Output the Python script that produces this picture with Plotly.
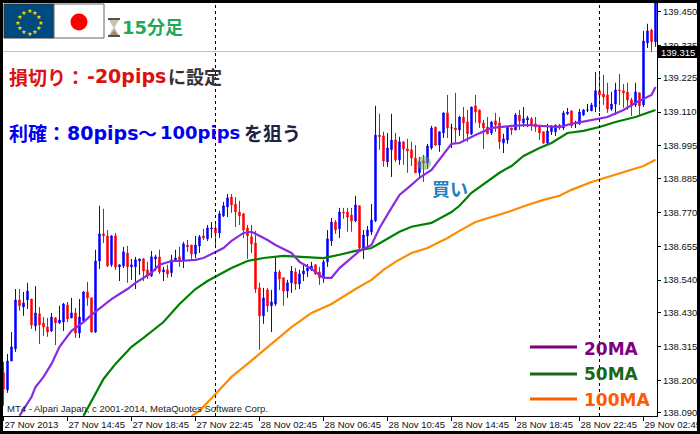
import math
import pandas as pd
import plotly.graph_objects as go

W, H = 700, 434
L, R, T, B = 3, 657, 3, 416

opens = [138.226,138.168,138.266,138.307,138.473,138.449,138.473,138.476,138.385,138.426,
138.395,138.381,138.368,138.412,138.395,138.398,138.456,138.412,138.429,138.361,
138.402,138.500,138.480,138.364,138.605,138.697,138.690,138.592,138.690,138.585,
138.588,138.632,138.585,138.585,138.605,138.612,138.575,138.554,138.612,138.619,
138.568,138.575,138.565,138.605,138.619,138.605,138.659,138.659,138.629,138.656,
138.690,138.680,138.714,138.717,138.700,138.758,138.788,138.822,138.798,138.771,
138.765,138.717,138.687,138.666,138.514,138.419,138.507,138.453,138.459,138.568,
138.548,138.503,138.531,138.568,138.527,138.561,138.571,138.575,138.592,138.568,
138.548,138.602,138.673,138.737,138.714,138.771,138.771,138.761,138.741,138.792,
138.643,138.690,138.703,138.741,139.032,139.029,138.941,138.982,139.015,138.948,
139.009,138.985,138.982,138.954,138.904,138.944,138.937,138.988,139.059,138.998,
139.039,139.107,139.056,139.056,139.049,139.093,139.076,139.036,139.131,139.117,
139.073,139.059,139.039,139.080,139.073,139.005,139.015,139.056,139.049,139.100,
139.073,139.083,139.087,139.070,139.063,139.043,139.005,139.043,139.043,139.066,
139.056,139.104,139.114,139.073,139.070,139.100,139.117,139.114,139.127,139.182,
139.171,139.168,139.120,139.137,139.185,139.182,139.178,139.151,139.134,139.175,
139.134,139.344,139.388,139.348]

highs = [138.263,138.290,138.364,138.510,138.510,138.500,138.531,138.476,138.520,138.449,
138.415,138.412,138.429,138.415,138.453,138.463,138.466,138.480,138.446,138.476,
138.503,138.534,138.480,138.643,138.792,138.782,138.710,138.693,138.700,138.592,
138.653,138.656,138.612,138.619,138.612,138.615,138.602,138.639,138.626,138.643,
138.585,138.592,138.626,138.643,138.653,138.670,138.676,138.659,138.690,138.693,
138.714,138.727,138.737,138.737,138.775,138.805,138.832,138.832,138.822,138.809,
138.768,138.727,138.727,138.707,138.531,138.514,138.514,138.507,138.619,138.575,
138.548,138.541,138.588,138.581,138.575,138.592,138.595,138.602,138.595,138.585,
138.609,138.710,138.751,138.744,138.785,138.785,138.785,138.785,138.826,138.792,
138.710,138.724,138.798,139.131,139.104,139.043,139.039,139.104,139.039,139.026,
139.009,139.019,139.009,138.998,138.958,138.965,139.002,139.063,139.059,139.043,
139.107,139.168,139.070,139.175,139.097,139.127,139.117,139.127,139.168,139.117,
139.083,139.093,139.080,139.107,139.093,139.036,139.059,139.056,139.107,139.117,
139.127,139.097,139.093,139.093,139.063,139.043,139.070,139.066,139.066,139.070,
139.114,139.124,139.114,139.080,139.120,139.120,139.137,139.141,139.246,139.239,
139.236,139.209,139.178,139.209,139.239,139.205,139.209,139.158,139.209,139.175,
139.385,139.409,139.392,139.490]

lows = [138.114,138.158,138.266,138.297,138.436,138.419,138.442,138.375,138.368,138.324,
138.351,138.348,138.364,138.320,138.392,138.368,138.398,138.412,138.344,138.344,
138.398,138.453,138.364,138.361,138.578,138.666,138.585,138.585,138.575,138.537,
138.581,138.531,138.541,138.510,138.558,138.537,138.544,138.551,138.571,138.561,
138.537,138.548,138.551,138.605,138.585,138.581,138.636,138.612,138.615,138.632,
138.676,138.673,138.683,138.659,138.683,138.754,138.754,138.768,138.720,138.727,
138.683,138.612,138.632,138.497,138.304,138.392,138.432,138.364,138.453,138.507,
138.453,138.480,138.497,138.507,138.510,138.537,138.551,138.571,138.558,138.524,
138.531,138.585,138.656,138.697,138.683,138.748,138.704,138.704,138.737,138.636,
138.612,138.656,138.693,138.737,138.982,138.924,138.924,138.890,138.941,138.931,
138.931,138.904,138.927,138.904,138.890,138.873,138.917,138.982,138.995,138.975,
139.022,139.022,138.988,139.005,139.029,139.009,139.009,139.032,139.073,139.056,
138.985,139.036,139.032,139.043,138.985,138.971,139.002,139.032,139.049,139.049,
139.059,139.059,139.046,139.043,139.015,139.002,138.998,139.032,139.029,139.049,
139.049,139.100,139.056,139.056,139.066,139.097,139.110,139.114,139.110,139.110,
139.134,139.107,139.114,139.100,139.134,139.124,139.117,139.097,139.127,139.100,
139.127,139.327,139.314,139.331]

closes = [138.171,138.266,138.314,138.473,138.453,138.463,138.503,138.388,138.429,138.388,
138.381,138.364,138.415,138.395,138.405,138.459,138.409,138.429,138.361,138.415,
138.500,138.480,138.364,138.605,138.697,138.690,138.588,138.690,138.585,138.592,
138.636,138.585,138.592,138.609,138.612,138.571,138.554,138.619,138.619,138.568,
138.575,138.561,138.609,138.615,138.605,138.663,138.653,138.629,138.659,138.687,
138.683,138.717,138.717,138.700,138.765,138.792,138.819,138.795,138.771,138.758,
138.710,138.690,138.663,138.510,138.419,138.480,138.453,138.466,138.568,138.544,
138.503,138.531,138.571,138.527,138.561,138.571,138.581,138.588,138.561,138.548,
138.602,138.680,138.737,138.710,138.771,138.768,138.754,138.741,138.795,138.649,
138.693,138.710,138.744,139.032,139.026,138.944,138.988,139.015,138.948,139.009,
138.985,138.978,138.954,138.904,138.941,138.937,138.995,139.056,138.998,139.043,
139.107,139.056,139.056,139.049,139.093,139.073,139.036,139.127,139.110,139.073,
139.056,139.036,139.076,139.066,139.009,139.019,139.059,139.049,139.100,139.080,
139.087,139.090,139.063,139.059,139.039,139.005,139.046,139.063,139.066,139.056,
139.107,139.110,139.063,139.073,139.110,139.117,139.117,139.134,139.182,139.168,
139.161,139.120,139.137,139.185,139.182,139.175,139.151,139.131,139.178,139.131,
139.351,139.385,139.348,139.480]

doji_bars = [112, 143, 146]

ma20_bars = [4,7,8,10,12,14,17,20,22,25,27,29,31,33,35,37,39,42,44,48,50,53,55,57,60,62,66,68,72,74,77,80,82,84,87,89,92,94,97,99,102,104,107,110,112,114,118,122,127,131,135,139,142,147,151,155,158,162,163]
ma20_vals = [138.080,138.144,138.178,138.212,138.256,138.314,138.368,138.398,138.422,138.453,138.476,138.493,138.510,138.531,138.548,138.565,138.592,138.605,138.605,138.609,138.615,138.636,138.649,138.673,138.700,138.704,138.676,138.659,138.632,138.602,138.578,138.548,138.548,138.581,138.615,138.639,138.659,138.717,138.785,138.829,138.863,138.887,138.914,138.968,139.002,139.005,139.032,139.056,139.063,139.066,139.063,139.059,139.070,139.083,139.093,139.117,139.141,139.168,139.195]

ma50_bars = [20,23,25,28,32,35,40,44,48,51,54,57,61,65,70,76,80,84,88,92,95,99,102,107,112,114,117,121,124,127,130,134,137,141,145,149,153,158,163]
ma50_vals = [138.080,138.154,138.205,138.256,138.314,138.344,138.398,138.459,138.510,138.537,138.558,138.581,138.605,138.615,138.622,138.619,138.615,138.626,138.639,138.649,138.673,138.704,138.721,138.734,138.771,138.792,138.836,138.876,138.904,138.927,138.961,138.988,139.005,139.039,139.046,139.059,139.076,139.093,139.117]

ma100_bars = [47,49,53,57,61,64,68,72,77,82,86,88,92,95,98,102,106,111,114,118,122,127,131,135,139,142,147,152,156,160,163]
ma100_vals = [138.080,138.097,138.154,138.212,138.256,138.290,138.334,138.381,138.429,138.459,138.493,138.510,138.541,138.575,138.602,138.632,138.649,138.683,138.707,138.737,138.754,138.775,138.795,138.812,138.826,138.846,138.873,138.893,138.910,138.927,138.948]

price_ticks = [139.450,139.335,139.225,139.110,138.995,138.885,138.770,138.655,138.540,138.430,138.315,138.200,138.090]
time_ticks = ["2013-11-27 10:45","2013-11-27 14:45","2013-11-27 18:45","2013-11-27 22:45","2013-11-28 02:45","2013-11-28 06:45","2013-11-28 10:45","2013-11-28 14:45","2013-11-28 18:45","2013-11-28 22:45","2013-11-29 02:45"]
time_labels = ["27 Nov 2013","27 Nov 14:45","27 Nov 18:45","27 Nov 22:45","28 Nov 02:45","28 Nov 06:45","28 Nov 10:45","28 Nov 14:45","28 Nov 18:45","28 Nov 22:45","29 Nov 02:45"]
day_separators = ["2013-11-28 00:00","2013-11-29 00:00"]
current_price = 139.315
price_range = [138.0795, 139.4795]
time_range = ["2013-11-27 10:43:07.5", "2013-11-29 03:35:37.5"]

times = pd.date_range("2013-11-27 10:45", periods=len(closes), freq="15min")


def px(x):
    return (x - L) / (R - L)


def py(y):
    return 1 - (y - T) / (B - T)


def pick(values, bars):
    return [values[i] for i in bars]


normal = [i for i in range(len(closes)) if i not in doji_bars]
fig = go.Figure()

UI = "Liberation Sans, DejaVu Sans"
JP = "DejaVu Sans, Noto Sans CJK JP"

fig.add_trace(go.Candlestick(
    x=pick(times, normal), open=pick(opens, normal), high=pick(highs, normal),
    low=pick(lows, normal), close=pick(closes, normal), whiskerwidth=0,
    increasing=dict(line=dict(color="#0000ff", width=1), fillcolor="#0000ff"),
    decreasing=dict(line=dict(color="#ff0000", width=1), fillcolor="#ff0000"),
    showlegend=False, hoverinfo="skip"))
fig.add_trace(go.Candlestick(
    x=pick(times, doji_bars), open=pick(opens, doji_bars), high=pick(highs, doji_bars),
    low=pick(lows, doji_bars), close=pick(closes, doji_bars), whiskerwidth=0,
    increasing=dict(line=dict(color="#000000", width=1), fillcolor="#000000"),
    decreasing=dict(line=dict(color="#000000", width=1), fillcolor="#000000"),
    showlegend=False, hoverinfo="skip"))

for bars, vals, col in [(ma100_bars, ma100_vals, "#ff8c00"),
                        (ma50_bars, ma50_vals, "#008000"),
                        (ma20_bars, ma20_vals, "#8a2be2")]:
    fig.add_trace(go.Scatter(x=pick(times, bars), y=vals, mode="lines",
                             line=dict(color=col, width=2.2), showlegend=False,
                             hoverinfo="skip"))

shapes = []


def rect(x0, y0, x1, y1, fill, line=None, width=0, kind="rect", layer="above"):
    shapes.append(dict(type=kind, xref="paper", yref="paper", x0=px(x0), x1=px(x1),
                       y0=py(y0), y1=py(y1), fillcolor=fill, layer=layer,
                       line=dict(color=line or fill, width=width)))


def poly(points, fill):
    d = "M " + " L ".join(f"{px(a):.5f} {py(b):.5f}" for a, b in points) + " Z"
    shapes.append(dict(type="path", xref="paper", yref="paper", path=d, fillcolor=fill,
                       layer="above", line=dict(width=0, color=fill)))


shapes.append(dict(type="line", xref="x", yref="y", x0=time_range[0], x1=time_range[1],
                   y0=current_price, y1=current_price, layer="below",
                   line=dict(color="#c0c0c0", width=1)))
for d in day_separators:
    shapes.append(dict(type="line", xref="x", yref="paper", x0=d, x1=d, y0=0, y1=1,
                       layer="above", line=dict(color="#000000", width=1, dash="3px,3px")))

# flags
rect(4, 4, 54, 38, "#004a80", "#333333", 1)
rect(54, 4, 104, 38, "#ffffff", "#666666", 1)
rect(70.5, 13.5, 87.5, 30.5, "#ff0000", kind="circle")
# hourglass icon
poly([(109, 20), (119, 20), (114.5, 27.5), (119, 35), (109, 35), (113.5, 27.5)], "#c9c3b4")
poly([(110, 35), (118, 35), (114, 30)], "#9a8a70")
rect(108, 18, 120, 20, "#5c5040")
rect(108, 35, 120, 37, "#5c5040")
# buy-point highlight
rect(417, 156, 431, 170, "rgba(100,160,90,0.5)", kind="circle")
# price box and frame
rect(658, 46, 697, 58, "#000000")
rect(0, 0, 3, H, "#000000")
rect(697, 0, W, H, "#000000")
rect(0, 0, W, 3, "#000000")
rect(0, 431, W, H, "#000000")
# legend lines
for yy, col in [(347, "#7f007f"), (374, "#1a661a"), (399, "#ff5a00")]:
    shapes.append(dict(type="line", xref="paper", yref="paper", x0=px(530), x1=px(577),
                       y0=py(yy), y1=py(yy), line=dict(color=col, width=3), layer="above"))

ann = []


def text(x, y, s, size, color, family=JP, bold=True, anchor="left"):
    ann.append(dict(xref="paper", yref="paper", x=px(x), y=py(y), text=f"<b>{s}</b>" if bold else s,
                    showarrow=False, xanchor=anchor, yanchor="middle", xshift=0,
                    font=dict(size=size, color=color, family=family),
                    borderpad=0, borderwidth=0))


for i in range(12):
    a = math.radians(30 * i)
    text(29 + 11.5 * math.sin(a), 22 - 11.5 * math.cos(a), "★", 6, "#ffd800",
         family="DejaVu Sans", bold=False, anchor="center")

text(122, 27, "15分足", 18, "#1faa5a")
text(9, 76, "損切り：", 19, "#dd1111", family="Noto Sans CJK JP")
text(87, 76, "-20pips", 19, "#dd1111")
text(168, 76, "に設定", 18, "#333333", family="Noto Sans CJK JP")
text(9, 133, "利確：", 19, "#0000ee", family="Noto Sans CJK JP")
text(67, 133, "80pips", 19, "#0000ee")
text(138, 133, "～", 19, "#0000ee", family="Noto Sans CJK JP")
text(160, 133, "100pips", 18, "#0000ee")
text(244, 133, "を狙う", 19, "#222244", family="Noto Sans CJK JP")
text(432, 188, "買い", 18, "#1f7fbf", family="Noto Sans CJK JP")
text(584, 349, "20MA", 17, "#7f007f")
text(584, 374, "50MA", 17, "#1a661a")
text(584, 400, "100MA", 17, "#ff5a00")
text(7, 408, "MT4 - Alpari Japan, c 2001-2014, MetaQuotes Software Corp.", 9.5, "#222222",
     family=UI, bold=False)
text(661, 52, "139.315", 9.5, "#ffffff", family=UI, bold=False)

fig.update_layout(
    width=W, height=H, autosize=False, template=None,
    margin=dict(l=L, r=W - R, t=T, b=H - B, pad=0),
    paper_bgcolor="#ffffff", plot_bgcolor="#ffffff",
    boxmode="overlay", boxgap=0.5, showlegend=False,
    shapes=shapes, annotations=ann,
    xaxis=dict(type="date", range=time_range, rangeslider=dict(visible=False),
               tickmode="array", tickvals=time_ticks, ticktext=time_labels,
               ticks="outside", ticklen=4, tickwidth=1, tickcolor="#000000", tickangle=0,
               ticklabelposition="outside right", ticklabeloverflow="allow", automargin=False,
               showline=True, linecolor="#000000", linewidth=1, showgrid=False,
               zeroline=False, tickfont=dict(size=9.5, color="#111111", family=UI)),
    yaxis=dict(side="right", range=price_range, tickmode="array", tickvals=price_ticks,
               ticktext=[f"{v:.3f}" for v in price_ticks], automargin=False,
               ticks="outside", ticklen=3, tickwidth=1, tickcolor="#000000",
               showline=True, linecolor="#000000", linewidth=1, showgrid=False,
               zeroline=False, tickfont=dict(size=9.5, color="#111111", family=UI)),
)

fig.write_html("out.html", config={"displayModeBar": False},
               post_script="document.body.style.margin='0';document.body.style.overflow='hidden';")
